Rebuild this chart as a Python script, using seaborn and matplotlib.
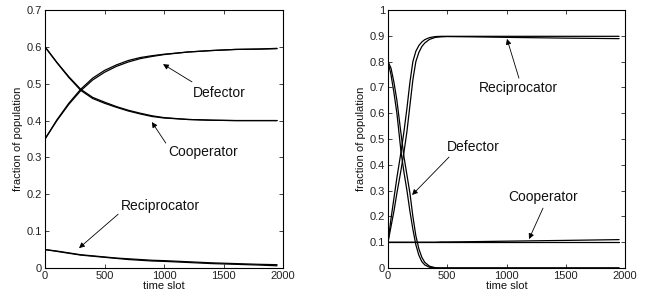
import matplotlib
matplotlib.use("Agg")
import matplotlib.pyplot as plt
import seaborn as sns
import pandas as pd

# ---------------- data ----------------
# Left panel
L_t = [0, 100, 200, 300, 400, 500, 600, 700, 800, 900, 1000, 1200, 1400, 1600, 1800, 1950]
L_def_a = [0.350, 0.402, 0.447, 0.485, 0.515, 0.536, 0.551, 0.563, 0.571, 0.576, 0.580, 0.586, 0.590, 0.593, 0.594, 0.595]
L_def_b = [0.350, 0.400, 0.444, 0.481, 0.510, 0.531, 0.547, 0.559, 0.568, 0.574, 0.579, 0.586, 0.590, 0.593, 0.594, 0.596]
L_coop_a = [0.600, 0.558, 0.519, 0.485, 0.463, 0.450, 0.438, 0.428, 0.420, 0.413, 0.408, 0.403, 0.401, 0.400, 0.400, 0.400]
L_coop_b = [0.600, 0.557, 0.517, 0.482, 0.460, 0.447, 0.436, 0.426, 0.418, 0.411, 0.407, 0.403, 0.401, 0.400, 0.400, 0.400]
L_rec_a = [0.050, 0.046, 0.041, 0.036, 0.033, 0.030, 0.027, 0.025, 0.023, 0.021, 0.020, 0.017, 0.014, 0.012, 0.010, 0.009]
L_rec_b = [0.050, 0.045, 0.040, 0.035, 0.032, 0.029, 0.026, 0.023, 0.021, 0.019, 0.018, 0.015, 0.012, 0.010, 0.008, 0.006]

# Right panel
R_t = [0, 25, 50, 75, 110, 135, 160, 185, 210, 235, 260, 285, 310, 350, 400, 450, 500, 700, 1000, 1500, 1950]
R_rec_a = [0.100, 0.190, 0.270, 0.350, 0.450, 0.530, 0.620, 0.720, 0.800, 0.840, 0.862, 0.876, 0.885, 0.893, 0.897, 0.898, 0.898, 0.898, 0.898, 0.898, 0.898]
R_rec_b = [0.100, 0.160, 0.220, 0.290, 0.380, 0.450, 0.530, 0.630, 0.730, 0.800, 0.835, 0.858, 0.872, 0.886, 0.894, 0.896, 0.897, 0.896, 0.894, 0.891, 0.889]
R_def_a = [0.800, 0.750, 0.680, 0.600, 0.450, 0.370, 0.300, 0.220, 0.150, 0.090, 0.050, 0.025, 0.012, 0.003, 0.000, 0.000, 0.000, 0.000, 0.000, 0.000, 0.000]
R_def_b = [0.800, 0.775, 0.720, 0.650, 0.520, 0.430, 0.360, 0.290, 0.200, 0.125, 0.075, 0.042, 0.022, 0.007, 0.001, 0.000, 0.000, 0.000, 0.000, 0.000, 0.000]
R_coop_a = [0.100, 0.100, 0.100, 0.100, 0.100, 0.100, 0.100, 0.100, 0.100, 0.100, 0.100, 0.100, 0.100, 0.100, 0.100, 0.101, 0.101, 0.102, 0.104, 0.107, 0.110]
R_coop_b = [0.100, 0.100, 0.100, 0.100, 0.100, 0.100, 0.100, 0.100, 0.100, 0.100, 0.100, 0.100, 0.100, 0.100, 0.100, 0.100, 0.100, 0.100, 0.100, 0.100, 0.100]

xticks = [0, 500, 1000, 1500, 2000]
L_yticks = [0, 0.1, 0.2, 0.3, 0.4, 0.5, 0.6, 0.7]
L_yticklabels = ["0", "0.1", "0.2", "0.3", "0.4", "0.5", "0.6", "0.7"]
R_yticks = [0, 0.1, 0.2, 0.3, 0.4, 0.5, 0.6, 0.7, 0.8, 0.9, 1]
R_yticklabels = ["0", "0.1", "0.2", "0.3", "0.4", "0.5", "0.6", "0.7", "0.8", "0.9", "1"]

# annotations: (label, text_xy, arrow_start_xy, arrow_tip_xy)
L_notes = [("Defector", (1462, 0.475), (1235, 0.505), (992, 0.553)),
           ("Cooperator", (1330, 0.315), (1015, 0.339), (898, 0.396)),
           ("Reciprocator", (973, 0.168), (615, 0.146), (286, 0.054))]
R_notes = [("Reciprocator", (1097, 0.698), (1105, 0.736), (1004, 0.888)),
           ("Defector", (717, 0.469), (515, 0.43), (203, 0.283)),
           ("Cooperator", (1308, 0.275), (1308, 0.232), (1190, 0.112))]

# ---------------- plotting ----------------
sns.set_style("ticks")
plt.rcParams['font.family'] = ['Liberation Sans', 'DejaVu Sans']

fig = plt.figure(figsize=(6.53, 2.95), dpi=100)
axL = fig.add_axes([45 / 653, 1 - 268 / 295, 238 / 653, 258 / 295])
axR = fig.add_axes([388 / 653, 1 - 268 / 295, 237 / 653, 258 / 295])


def draw(ax, t, series, notes, ylim, yticks, yticklabels):
    for name, vals in series.items():
        df = pd.DataFrame({"t": t, "v": vals})
        sns.lineplot(data=df, x="t", y="v", ax=ax, color="black", lw=0.9)
    ax.set_xlim(0, 2000)
    ax.set_ylim(*ylim)
    ax.set_xticks(xticks)
    ax.set_xticklabels([str(v) for v in xticks])
    ax.set_yticks(yticks)
    ax.set_yticklabels(yticklabels)
    ax.set_xlabel("time slot", fontsize=8, labelpad=0, color="#111111")
    ax.set_ylabel("fraction of population", fontsize=8, labelpad=3, color="#111111")
    ax.tick_params(direction="in", length=3, width=0.6, labelsize=8,
                   top=True, right=True, pad=2, colors="#222222")
    for s in ax.spines.values():
        s.set_visible(True)
        s.set_linewidth(0.8)
        s.set_color("black")
    for label, txy, sxy, pxy in notes:
        ax.text(txy[0], txy[1], label, fontsize=10, ha="center", va="center", color="#111111")
        ax.annotate("", xy=pxy, xytext=sxy,
                    arrowprops=dict(arrowstyle="-|>", color="black", lw=0.6,
                                    mutation_scale=8, shrinkA=0, shrinkB=0))


draw(axL, L_t, {"def_a": L_def_a, "def_b": L_def_b, "coop_a": L_coop_a,
                "coop_b": L_coop_b, "rec_a": L_rec_a, "rec_b": L_rec_b},
     L_notes, (0, 0.7), L_yticks, L_yticklabels)
draw(axR, R_t, {"rec_a": R_rec_a, "rec_b": R_rec_b, "def_a": R_def_a,
                "def_b": R_def_b, "coop_a": R_coop_a, "coop_b": R_coop_b},
     R_notes, (0, 1), R_yticks, R_yticklabels)

fig.savefig("out.png", dpi=100)
